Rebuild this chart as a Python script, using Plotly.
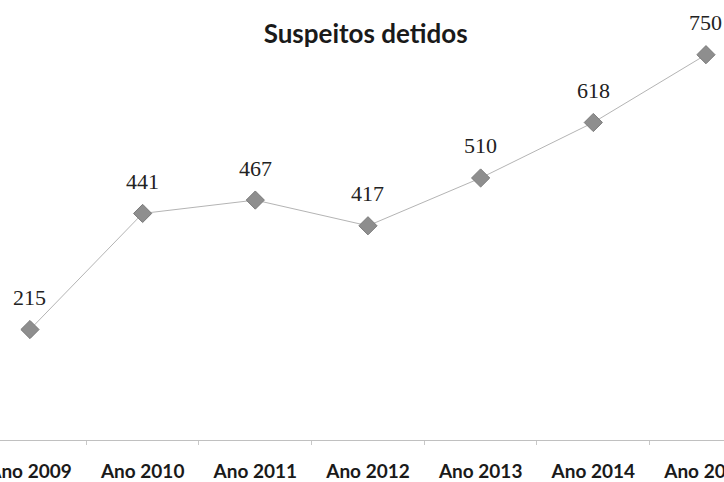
import plotly.graph_objects as go

categories = ["Ano 2009", "Ano 2010", "Ano 2011", "Ano 2012", "Ano 2013", "Ano 2014", "Ano 2015"]
values = [215, 441, 467, 417, 510, 618, 750]
title_text = "Suspeitos detidos"

fig = go.Figure()
fig.add_trace(go.Scatter(
    x=categories, y=values, mode="lines+markers",
    line=dict(color="#b4b4b4", width=1),
    marker=dict(symbol="diamond", size=14, color="#8e8e8e",
                line=dict(color="#7a7a7a", width=1)),
    hoverinfo="skip", showlegend=False,
))

for c, v in zip(categories, values):
    fig.add_annotation(x=c, y=v, text=str(v), showarrow=False, yshift=32,
                       font=dict(family="Liberation Serif", size=22, color="#222222"))

fig.update_layout(
    width=724, height=482,
    margin=dict(l=0, r=0, t=29, b=42, autoexpand=False),
    paper_bgcolor="white", plot_bgcolor="white",
    title=dict(text="<b>" + title_text + "</b>", x=0.505, xanchor="center", y=0.93, yanchor="middle",
               font=dict(family="Lato", size=26, color="#1a1a1a")),
    xaxis=dict(type="category", range=[-0.266, 6.16], tickson="boundaries",
               automargin=False,
               ticks="outside", ticklen=4, tickcolor="#c8c8c8",
               ticklabelstandoff=14,
               showline=True, linecolor="#c0c0c0", linewidth=1,
               showgrid=False, zeroline=False,
               tickprefix="<b>", ticksuffix="</b>",
               tickfont=dict(family="Lato", size=19, color="#1a1a1a")),
    yaxis=dict(range=[0, 800], visible=False, showgrid=False, zeroline=False,
               automargin=False),
)

fig.write_html("out.html")
